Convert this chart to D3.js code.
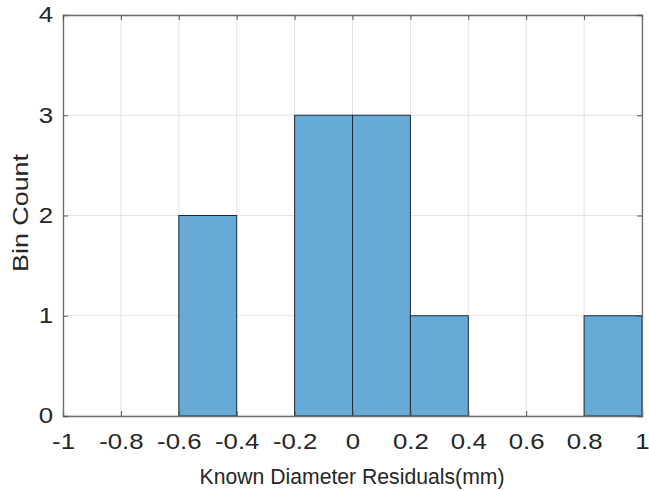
<!DOCTYPE html>
<html><head><meta charset="utf-8">
<script src="https://cdn.jsdelivr.net/npm/d3@7"></script>
<style>body{margin:0;background:#fff}svg{display:block}text{font-family:"Liberation Sans",Arial,sans-serif;fill:#262626}</style>
</head><body>
<svg id="c" width="649" height="491"></svg>
<script>
const binStarts = [-0.6, -0.2, 0.0, 0.2, 0.8];
const binWidth = 0.2;
const binCounts = [2, 3, 3, 1, 1];
const xTicks = [-1, -0.8, -0.6, -0.4, -0.2, 0, 0.2, 0.4, 0.6, 0.8, 1];
const yTicks = [0, 1, 2, 3, 4];

const svg = d3.select("#c");
const L = 63, R = 642, T = 15, B = 416;
const x = d3.scaleLinear().domain([-1, 1]).range([L, R]);
const y = d3.scaleLinear().domain([0, 4]).range([B, T]);

// grid
svg.append("g").selectAll("line").data(xTicks).join("line")
  .attr("x1", d => x(d)).attr("x2", d => x(d)).attr("y1", T).attr("y2", B)
  .attr("stroke", "#e3e3e3").attr("stroke-width", 1);
svg.append("g").selectAll("line").data(yTicks).join("line")
  .attr("x1", L).attr("x2", R).attr("y1", d => y(d)).attr("y2", d => y(d))
  .attr("stroke", "#e3e3e3").attr("stroke-width", 1);

// bars
svg.append("g").selectAll("rect").data(binStarts).join("rect")
  .attr("x", d => x(d)).attr("width", d => x(d + binWidth) - x(d))
  .attr("y", (d, i) => y(binCounts[i])).attr("height", (d, i) => y(0) - y(binCounts[i]))
  .attr("fill", "rgb(102,170,215)").attr("stroke", "#1f2a33").attr("stroke-width", 1);

// axes
const fmt = d => String(d);
const FS = 21.5, SX = 1.2;
const ax = svg.append("g").attr("transform", `translate(0,${B})`)
  .call(d3.axisBottom(x).tickValues(xTicks).tickSize(-5).tickPadding(18).tickFormat(fmt));
const ay = svg.append("g").attr("transform", `translate(${L},0)`)
  .call(d3.axisLeft(y).tickValues(yTicks).tickSize(-5).tickPadding(10).tickFormat(fmt));
const axT = svg.append("g").attr("transform", `translate(0,${T})`)
  .call(d3.axisTop(x).tickValues(xTicks).tickSize(-5).tickFormat(""));
const ayR = svg.append("g").attr("transform", `translate(${R},0)`)
  .call(d3.axisRight(y).tickValues(yTicks).tickSize(-5).tickFormat(""));
[ax, ay, axT, ayR].forEach(g => {
  g.attr("font-size", FS);
  g.select(".domain").attr("stroke", "#6e6e6e").attr("stroke-width", 1.3);
  g.selectAll(".tick line").attr("stroke", "#555");
  g.selectAll("text").attr("font-size", FS).attr("fill", "#262626")
   .style("font-family", '"Liberation Sans",Arial,sans-serif');
});
ax.selectAll(".tick text").attr("transform", `scale(${SX},1)`);
ay.selectAll(".tick text").attr("x", 0).attr("transform", `translate(-10,0) scale(${SX},1)`);

svg.append("text").attr("x", 352).attr("y", 484).attr("text-anchor", "middle")
  .attr("font-size", 22).attr("textLength", 305).attr("lengthAdjust", "spacingAndGlyphs")
  .text("Known Diameter Residuals(mm)");
svg.append("text").attr("transform", `translate(28,213) rotate(-90)`)
  .attr("text-anchor", "middle").attr("font-size", 22)
  .attr("textLength", 118).attr("lengthAdjust", "spacingAndGlyphs").text("Bin Count");
</script>
</body></html>
